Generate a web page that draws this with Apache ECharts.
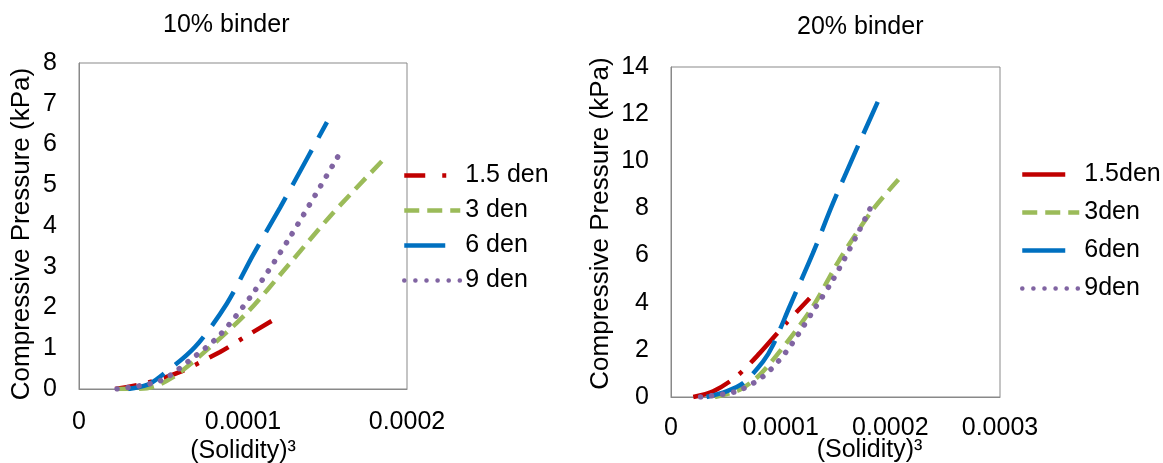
<!DOCTYPE html>
<html>
<head>
<meta charset="utf-8">
<script src="https://cdn.jsdelivr.net/npm/echarts@6/dist/echarts.min.js"></script>
<style>
  html, body { margin: 0; padding: 0; background: #fff; }
  #chart { width: 1163px; height: 463px; }
</style>
</head>
<body>
<div id="chart"></div>
<script>
// 10% binder
var red10X = [0.000022, 0.0000415, 0.0000616, 0.000086, 0.0001012, 0.0001183]
var red10Y = [0, 0.15, 0.42, 0.91, 1.28, 1.69]
var green10X = [0.0000226, 0.0000415, 0.0000573, 0.000078, 0.0001024, 0.0001268, 0.0001549, 0.0001866]
var green10Y = [0, 0.02, 0.29, 0.96, 1.87, 3.0, 4.32, 5.67]
var blue10X = [0.00003, 0.0000415, 0.0000494, 0.0000707, 0.0000902, 0.000106, 0.0001226, 0.000139, 0.0001512]
var blue10Y = [0, 0.1, 0.3, 1.03, 2.1, 3.28, 4.45, 5.65, 6.55]
var purple10X = [0.0000232, 0.0000494, 0.0000677, 0.000086, 0.0001061, 0.0001287, 0.0001591]
var purple10Y = [0, 0.2, 0.71, 1.33, 2.35, 3.73, 5.79]

// 20% binder
var red20X = [0.0000203, 0.0000385, 0.0000597, 0.0000809, 0.0001052, 0.0001264]
var red20Y = [0, 0.24, 0.87, 1.86, 3.14, 4.19]
var green20X = [0.00004, 0.0000627, 0.0000809, 0.0001052, 0.0001294, 0.0001536, 0.0001839, 0.0002112]
var green20Y = [0, 0.31, 0.94, 2.29, 3.84, 5.82, 7.94, 9.42]
var blue20X = [0.0000324, 0.0000506, 0.0000658, 0.0000839, 0.000093, 0.0001082, 0.0001294, 0.0001476, 0.0001688, 0.0001885]
var blue20Y = [0, 0.24, 0.59, 1.5, 2.2, 3.84, 6.1, 8.21, 10.47, 12.52]
var purple20X = [0.000027, 0.0000597, 0.0000839, 0.0001052, 0.0001294, 0.0001476, 0.0001688, 0.0001839]
var purple20Y = [0, 0.24, 0.87, 1.93, 3.63, 4.97, 6.8, 8.22]

var names10 = ['1.5 den', '3 den', '6 den', '9 den']
var names20 = ['1.5den', '3den', '6den', '9den']

function pairs(xs, ys) {
  return xs.map(function (x, i) { return [x, ys[i]] })
}

var font = 'Liberation Sans, Arial, sans-serif'
var txt = { color: '#000', fontSize: 25, fontFamily: font }

function xAxis(grid, max, gap, margin, pad) {
  return {
    type: 'value', gridIndex: grid, min: 0, max: max, interval: 0.0001,
    name: '(Solidity)\u00b3', nameLocation: 'middle', nameGap: gap, nameMoveOverlap: false,
    nameTextStyle: { color: '#000', fontSize: 25, fontFamily: font, padding: pad },
    axisLine: { show: true, lineStyle: { color: '#898989' } },
    axisTick: { show: false }, splitLine: { show: false },
    axisLabel: Object.assign({ margin: margin }, txt)
  }
}
function yAxis(grid, max, step, gap, pad) {
  return {
    type: 'value', gridIndex: grid, min: 0, max: max, interval: step,
    name: 'Compressive Pressure (kPa)', nameLocation: 'middle', nameGap: gap, nameMoveOverlap: false,
    nameTextStyle: { color: '#000', fontSize: 26, fontFamily: font, padding: pad },
    axisLine: { show: true, lineStyle: { color: '#898989' } },
    axisTick: { show: false }, splitLine: { show: false },
    axisLabel: Object.assign({ margin: 22 }, txt)
  }
}
function line(name, idx, data, color, dash) {
  var dotted = dash[0] < 1
  return {
    name: name, type: 'line', xAxisIndex: idx, yAxisIndex: idx,
    data: data, smooth: 0.3, symbol: 'none',
    lineStyle: { color: color, width: dotted ? 5.5 : 4.5, type: dash, cap: dotted ? 'round' : 'butt' },
    itemStyle: { color: color }
  }
}

var chart = echarts.init(document.getElementById('chart'))
chart.setOption({
  animation: false,
  title: [
    { text: '10% binder', left: 158, top: 8, textStyle: { color: '#000', fontSize: 25, fontWeight: 'normal', fontFamily: font } },
    { text: '20% binder', left: 792, top: 10, textStyle: { color: '#000', fontSize: 25, fontWeight: 'normal', fontFamily: font } }
  ],
  grid: [
    { left: 79, top: 63, width: 328, height: 326, show: true, borderColor: '#898989', borderWidth: 1, outerBoundsMode: 'none' },
    { left: 671, top: 67, width: 329, height: 330, show: true, borderColor: '#898989', borderWidth: 1, outerBoundsMode: 'none' }
  ],
  legend: [
    {
      data: [
        { name: names10[0], lineStyle: { type: [21, 17, 4, 20] } },
        names10[1],
        { name: names10[2], lineStyle: { type: [41, 20] } },
        names10[3]
      ],
      orient: 'vertical', left: 397, top: 158, itemWidth: 56, itemHeight: 14, itemGap: 10,
      itemStyle: { opacity: 0 }, lineStyle: { width: 4.5 },
      textStyle: { color: '#000', fontSize: 25, fontFamily: font }
    },
    {
      data: [
        { name: names20[0], lineStyle: { type: [43, 20] } },
        names20[1],
        { name: names20[2], lineStyle: { type: [43, 20] } },
        names20[3]
      ],
      orient: 'vertical', left: 1015, top: 157, itemWidth: 57, itemHeight: 14, itemGap: 13,
      itemStyle: { opacity: 0 }, lineStyle: { width: 4.5 },
      textStyle: { color: '#000', fontSize: 25, fontFamily: font }
    }
  ],
  xAxis: [xAxis(0, 0.0002, 50, 21, 0), xAxis(1, 0.0003, 41, 19, [0, 0, 0, 68])],
  yAxis: [yAxis(0, 8, 1, 44, [0, 16, 0, 0]), yAxis(1, 14, 2, 57, [0, 0, 0, 17])],
  series: [
    line(names10[0], 0, pairs(red10X, red10Y), '#C00000', [22, 12, 4, 12]),
    line(names10[1], 0, pairs(green10X, green10Y), '#9BBB59', [15, 8]),
    line(names10[2], 0, pairs(blue10X, blue10Y), '#0070C0', [40, 14]),
    line(names10[3], 0, pairs(purple10X, purple10Y), '#8064A2', [0.1, 11]),
    line(names20[0], 1, pairs(red20X, red20Y), '#C00000', [40, 12, 4, 12]),
    line(names20[1], 1, pairs(green20X, green20Y), '#9BBB59', [15, 8]),
    line(names20[2], 1, pairs(blue20X, blue20Y), '#0070C0', [40, 13]),
    line(names20[3], 1, pairs(purple20X, purple20Y), '#8064A2', [0.1, 11])
  ]
})
</script>
</body>
</html>
